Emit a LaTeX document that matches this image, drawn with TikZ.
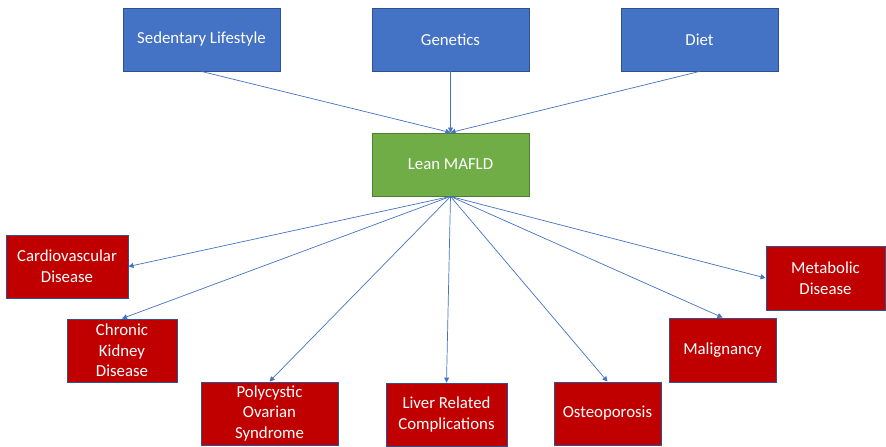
\documentclass[tikz,border=0pt]{standalone}
\usepackage{fontspec}
\setmainfont{Carlito}
\usetikzlibrary{arrows.meta}
\definecolor{boxblue}{HTML}{4472C4}
\definecolor{edgeblue}{HTML}{2F528F}
\definecolor{boxgreen}{HTML}{70AD47}
\definecolor{edgegreen}{HTML}{507E32}
\definecolor{boxred}{HTML}{C00000}
\tikzset{
  base/.style={draw, line width=0.9pt, text=white, align=center, inner sep=2pt,
    font=\fontsize{16.8}{20.7}\selectfont},
  cause/.style={base, fill=boxblue, draw=edgeblue},
  center/.style={base, fill=boxgreen, draw=edgegreen},
  effect/.style={base, fill=boxred, draw=edgeblue},
  link/.style={draw=boxblue, line width=0.7pt, -{Triangle[length=5pt,width=5pt]}}
}
\newcommand{\bx}[7]{% name, style, x1, y1, x2, y2, text
  \node[#2, minimum width={#5-#3}, minimum height={#6-#4}] (#1) at ({(#3+#5)/2},{(#4+#6)/2}) {#7};}
\begin{document}
\begin{tikzpicture}[x=1pt,y=-1pt]
\useasboundingbox (0,0) rectangle (886,447);
\bx{sed}{cause}{123}{8}{280}{71}{Sedentary Lifestyle}
\bx{gen}{cause}{372}{8}{529}{71}{Genetics}
\bx{diet}{cause}{621}{8}{778}{71}{Diet}
\bx{maf}{center}{372}{133}{529}{196}{Lean MAFLD}
\bx{cvd}{effect}{6}{235}{128}{298}{Cardiovascular\\Disease}
\bx{ckd}{effect}{67}{319}{177}{382}{Chronic\\Kidney\\Disease}
\bx{pcos}{effect}{201}{382}{338}{445}{Polycystic\\Ovarian\\Syndrome}
\bx{liv}{effect}{386}{383}{507}{446}{Liver Related\\Complications}
\bx{ost}{effect}{554}{382}{661}{445}{Osteoporosis}
\bx{mal}{effect}{669}{318}{776}{382}{Malignancy}
\bx{met}{effect}{766}{246}{885}{310}{Metabolic\\Disease}
\draw[link] (sed.south) -- (maf.north);
\draw[link] (gen.south) -- (maf.north);
\draw[link] (diet.south) -- (maf.north);
\draw[link] (maf.south) -- (cvd.east);
\draw[link] (maf.south) -- (ckd.north);
\draw[link] (maf.south) -- (pcos.north);
\draw[link] (maf.south) -- (liv.north);
\draw[link] (maf.south) -- (ost.north);
\draw[link] (maf.south) -- (mal.north);
\draw[link] (maf.south) -- (met.west);
\end{tikzpicture}
\end{document}
